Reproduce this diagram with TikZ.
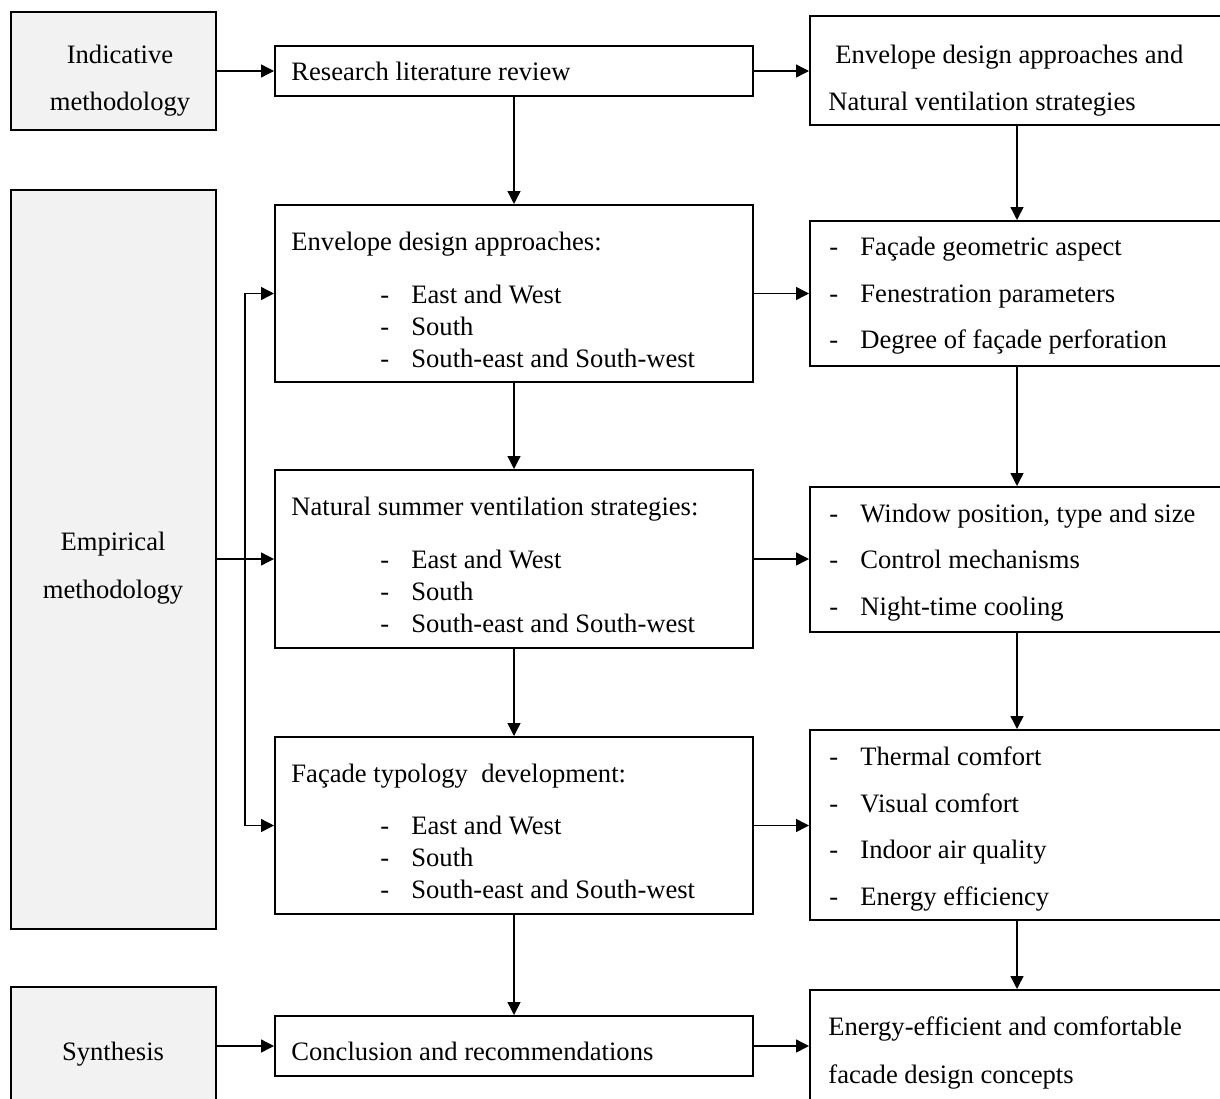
\documentclass[tikz,border=0pt]{standalone}
\usepackage{fontspec}
\setmainfont{Liberation Serif}
\usetikzlibrary{arrows.meta}
\definecolor{sidegray}{RGB}{242,242,242}

\begin{document}
\begin{tikzpicture}[x=0.5pt, y=-0.5pt,
    >={Triangle[length=6.5pt,width=6.5pt]},
    box/.style={draw, line width=1pt, inner sep=0pt},
    side/.style={box, fill=sidegray, minimum width=102.5pt},
    mid/.style={box, minimum width=239pt},
    outbox/.style={box, minimum width=207pt},
    txt/.style={anchor=base west, inner sep=0pt, font=\fontsize{13.3}{16}\selectfont},
    ctr/.style={txt, anchor=base},
    link/.style={draw, line width=0.7pt, ->}]
    \useasboundingbox (0,0) rectangle (1220,1098);
    \clip (0,0) rectangle (1220,1098);

    % left column
    \node[side, minimum height=59pt] (ind) at (113.5,71) {};
    \node[side, minimum height=369.5pt] (emp) at (113.5,559.5) {};
    \node[side, minimum height=71.5pt] (syn) at (113.5,1058.5) {};
    \node[ctr] (ind-1) at (120,63) {Indicative};
    \node[ctr] (ind-2) at (120,110) {methodology};
    \node[ctr] (emp-1) at (113,550) {Empirical};
    \node[ctr] (emp-2) at (113,598) {methodology};
    \node[ctr] (syn-1) at (113,1060) {Synthesis};

    % middle column
    \node[mid, minimum height=25pt] (rev) at (514,71) {};
    \node[mid, minimum height=88.5pt] (env) at (514,293.5) {};
    \node[mid, minimum height=89pt] (nat) at (514,559) {};
    \node[mid, minimum height=88.5pt] (fac) at (514,825.5) {};
    \node[mid, minimum height=30pt] (con) at (514,1046) {};
    \node[txt] (rev-1) at (291,80) {Research literature review};
    \node[txt] (env-0) at (291,250) {Envelope design approaches:};
    \node[txt] (nat-0) at (291,515) {Natural summer ventilation strategies:};
    \node[txt] (fac-0) at (291,782) {Façade typology\ \ development:};
    \node[txt] (con-1) at (291,1060) {Conclusion and recommendations};
    \foreach \b/\t [count=\i] in {env/303, nat/568, fac/834}{
      \node[txt] (\b-d1) at (380,\t) {-};
      \node[txt] (\b-1) at (411,\t) {East and West};
      \node[txt] (\b-d2) at (380,\t+32) {-};
      \node[txt] (\b-2) at (411,\t+32) {South};
      \node[txt] (\b-d3) at (380,\t+64) {-};
      \node[txt] (\b-3) at (411,\t+64) {South-east and South-west};
    }

    % right column
    \node[outbox, minimum height=54.5pt] (out1) at (1017,70.5) {};
    \node[outbox, minimum height=72.5pt] (out2) at (1017,293.5) {};
    \node[outbox, minimum height=72.5pt] (out3) at (1017,559.5) {};
    \node[outbox, minimum height=95pt] (out4) at (1017,825) {};
    \node[outbox, minimum height=70pt] (out5) at (1017,1060) {};
    \node[txt] (out1-1) at (835,63) {Envelope design approaches and};
    \node[txt] (out1-2) at (828,110) {Natural ventilation strategies};
    \node[txt] (out5-1) at (828,1035) {Energy-efficient and comfortable};
    \node[txt] (out5-2) at (828,1083) {facade design concepts};
    \foreach \t/\y [count=\i] in {Façade geometric aspect/255, Fenestration parameters/302,
        Degree of façade perforation/348, {Window position, type and size}/522,
        Control mechanisms/568, Night-time cooling/615, Thermal comfort/765,
        Visual comfort/812, Indoor air quality/858, Energy efficiency/905}{
      \node[txt] (item-d\i) at (829,\y) {-};
      \node[txt] (item-\i) at (860,\y) {\t};
    }

    % connectors
    \path[link] (ind) -- (rev);
    \path[link] (rev.east) -- (rev.east -| out1.west);
    \path[link] (rev) -- (env);
    \path[link] (env) -- (nat);
    \path[link] (nat) -- (fac);
    \path[link] (fac) -- (con);
    \path[link] (out1) -- (out2);
    \path[link] (out2) -- (out3);
    \path[link] (out3) -- (out4);
    \path[link] (out4) -- (out5);
    \path[link] (env.east) -- (env.east -| out2.west);
    \path[link] (nat.east) -- (nat.east -| out3.west);
    \path[link] (fac.east) -- (fac.east -| out4.west);
    \path[link] (con.east) -- (con.east -| out5.west);
    \path[link] (syn.east |- con.west) -- (con.west);
    \coordinate (fork) at (245,559);
    \path[draw, line width=0.7pt] (emp.east |- fork) -- (fork);
    \path[link] (fork) -- (nat.west);
    \path[link] (fork) |- (env.west);
    \path[link] (fork) |- (fac.west);
  \end{tikzpicture}
\end{document}
